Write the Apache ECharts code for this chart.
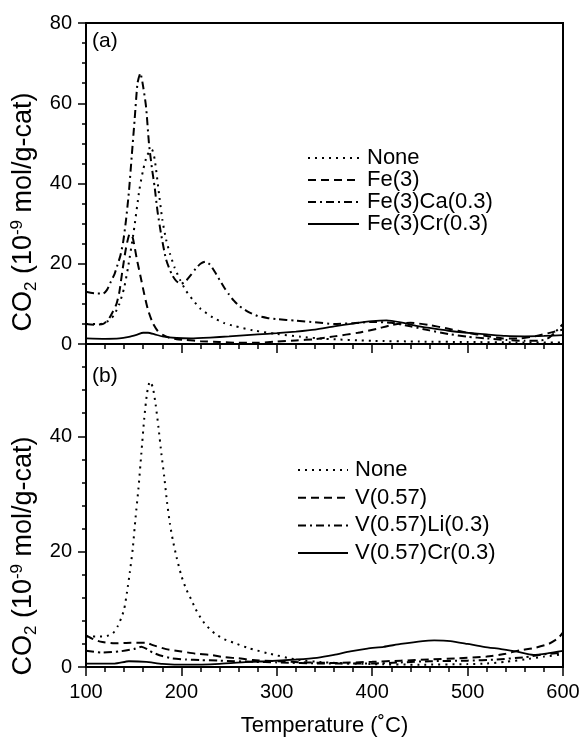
<!DOCTYPE html>
<html>
<head>
<meta charset="utf-8">
<script src="https://cdn.jsdelivr.net/npm/echarts@6/dist/echarts.min.js"></script>
<style>
html,body{margin:0;padding:0;background:#fff}
#chart{width:581px;height:738px}
</style>
</head>
<body>
<div id="chart"></div>
<script>
// panel (a): [temperature, CO2]
const noneA = [[100,5],[115,5],[125,6],[130,7.5],[135,10],[140,14],[144,19],[150,28],[156,38.5],[160,43.5],[164,47],[169,48.5],[172,46],[176,38.5],[180,31],[184,26],[188,22.5],[193,19],[199,15.8],[205,13.2],[212,11],[220,8.8],[233,6.6],[245,5.2],[255,4.5],[275,3.4],[300,2.5],[325,1.8],[350,1.3],[400,0.8],[450,0.6],[500,0.5],[550,0.4],[600,0.4]];
const fe3 = [[100,5],[110,4.8],[118,5],[124,6.3],[128,8],[132,10],[135,13],[138,18],[142,24],[146,27.5],[149,26.5],[153,21.5],[157,17],[161,12.5],[165,8.5],[170,5.2],[175,3.3],[181,2.2],[188,1.5],[195,1.2],[205,1.0],[220,0.7],[240,0.5],[260,0.3],[280,0.3],[300,0.6],[320,0.9],[340,1.2],[360,1.9],[385,2.8],[405,3.8],[420,4.7],[440,5.3],[460,4.7],[480,3.8],[500,2.8],[520,2.0],[537,1.4],[555,1.4],[572,2.0],[588,2.9],[600,3.6]];
const fe3Ca = [[100,13],[110,12.6],[118,12.6],[122,13.5],[126,15.5],[130,17.5],[133,19.7],[136,22],[139,25.5],[142,31],[145,38],[148,47],[151,56],[154,65],[157,67.5],[160,64],[163,59],[166,50],[169,44],[172,39],[175,33],[179,27],[184,21],[190,17.3],[195,15.6],[200,15],[205,15.8],[210,17.2],[215,18.8],[220,20],[225,20.5],[230,19.8],[235,18],[240,16],[245,14],[250,12.3],[255,10.8],[260,9.6],[270,8],[280,7],[290,6.5],[300,6.2],[320,5.8],[340,5.4],[360,5.0],[380,5.2],[400,5.5],[420,5.3],[440,4.4],[460,3.4],[480,2.5],[500,1.8],[520,1.4],[540,1.0],[560,0.8],[575,0.8],[585,1.5],[592,3],[600,5]];
const fe3Cr = [[100,1.4],[120,1.3],[135,1.4],[145,1.8],[153,2.3],[160,2.8],[165,2.8],[172,2.4],[180,1.9],[195,1.5],[210,1.4],[230,1.6],[250,1.9],[280,2.4],[300,2.7],[320,3.1],[340,3.6],[360,4.4],[380,5.1],[400,5.7],[415,5.9],[430,5.4],[445,4.6],[460,4.0],[480,3.3],[500,2.8],[520,2.4],[540,2.0],[560,1.9],[580,2.0],[600,2.2]];

// panel (b)
const noneB = [[100,5.3],[110,5.3],[120,5.3],[128,5.8],[133,7],[137,8.5],[140,10],[143,13],[146,16.5],[149,20.5],[152,26],[155,31],[158,37],[161,43],[164,47.5],[167,49.5],[170,48.5],[173,45.5],[176,41.5],[179,37],[182,33],[185,28.5],[188,24.8],[191,22],[195,19],[200,15.8],[205,13.5],[210,11.8],[215,10],[220,8.6],[225,7.4],[235,5.8],[245,4.8],[255,4.2],[270,3.3],[290,2.4],[320,1.3],[350,0.8],[400,0.5],[450,0.4],[500,0.5],[520,0.6],[540,0.9],[560,1.3],[580,1.8],[600,2.2]];
const v057 = [[100,5.5],[108,4.8],[115,4.4],[130,4.1],[147,4.2],[163,4.2],[170,3.8],[184,3.1],[200,2.7],[215,2.3],[230,2.1],[245,1.7],[260,1.5],[275,1.2],[300,1.0],[330,0.8],[360,0.7],[400,0.9],[430,1.1],[460,1.3],[490,1.5],[520,1.8],[540,2.3],[555,2.9],[570,3.3],[585,4.0],[595,5],[600,6]];
const v057Li = [[100,2.8],[117,2.5],[135,2.7],[150,3.1],[158,3.5],[165,3.0],[170,2.5],[180,1.9],[190,1.5],[205,1.3],[220,1.2],[240,1.1],[275,0.9],[300,0.8],[350,0.6],[400,0.6],[430,0.8],[460,1.0],[500,1.1],[530,1.3],[560,1.7],[580,2.2],[600,2.5]];
const v057Cr = [[100,0.6],[130,0.6],[145,1.0],[163,0.9],[180,0.55],[205,0.4],[240,0.55],[272,0.9],[290,1.0],[320,1.3],[342,1.6],[360,2.1],[377,2.7],[395,3.2],[412,3.5],[430,4.0],[453,4.5],[465,4.6],[482,4.5],[500,4.0],[517,3.5],[535,3.1],[551,2.7],[569,2.1],[585,2.4],[600,2.8]];

const namesA = ['None', 'Fe(3)', 'Fe(3)Ca(0.3)', 'Fe(3)Cr(0.3)'];
const namesB = ['None', 'V(0.57)', 'V(0.57)Li(0.3)', 'V(0.57)Cr(0.3)'];

const FONT = 'Liberation Sans, Arial, sans-serif';
const styles = [
    { type: [2, 5], width: 2 },        // dotted
    { type: [8, 5], width: 2 },        // dashed
    { type: [8, 4, 2, 4], width: 2 },  // dash-dot
    { type: 'solid', width: 1.8 }      // solid
];

const chart = echarts.init(document.getElementById('chart'));

function mkSeries(name, data, idx, panel) {
    return {
        name: name, type: 'line', data: data,
        xAxisIndex: panel === 0 ? 0 : 2,
        yAxisIndex: panel === 0 ? 0 : 2,
        symbol: 'none', showSymbol: false, smooth: 0.2,
        color: '#000',
        lineStyle: Object.assign({ color: '#000' }, styles[idx]),
        silent: true
    };
}

const axisLine = { show: true, lineStyle: { color: '#000', width: 2 } };
const labelStyle = { color: '#000', fontSize: 20, fontFamily: FONT };
const tickStyle = { color: '#000', width: 1.5 };

const yName = '{n|CO}{sub|2}{n| (10}{sup|-9}{n| mol/g-cat)}';
const yRich = {
    n: { fontSize: 27, fontFamily: FONT, color: '#000', lineHeight: 31 },
    sub: { fontSize: 17, fontFamily: FONT, color: '#000', verticalAlign: 'bottom' },
    sup: { fontSize: 17, fontFamily: FONT, color: '#000', verticalAlign: 'top' }
};

const legendText = { color: '#000', fontSize: 22, fontFamily: FONT, lineHeight: 22 };

let option = {
    animation: false,
    backgroundColor: '#fff',
    grid: [
        { left: 86, top: 23, width: 477, height: 321, show: true, borderColor: '#000', borderWidth: 2, containLabel: false, outerBoundsMode: 'none' },
        { left: 86, top: 344, width: 477, height: 323, show: true, borderColor: '#000', borderWidth: 2, containLabel: false, outerBoundsMode: 'none' }
    ],
    xAxis: [
        {   // (a) bottom
            gridIndex: 0, type: 'value', min: 100, max: 600, interval: 100, position: 'bottom',
            axisLine: axisLine,
            axisTick: { show: true, inside: false, length: 9, lineStyle: tickStyle },
            minorTick: { show: true, splitNumber: 5, length: 5, lineStyle: tickStyle },
            axisLabel: { show: false }, splitLine: { show: false }
        },
        {   // (a) top
            gridIndex: 0, type: 'value', min: 100, max: 600, interval: 100, position: 'top',
            axisLine: axisLine,
            axisTick: { show: true, inside: true, length: 3, lineStyle: tickStyle },
            minorTick: { show: true, splitNumber: 5, length: 3, lineStyle: tickStyle },
            axisLabel: { show: false }, splitLine: { show: false }
        },
        {   // (b) bottom
            gridIndex: 1, type: 'value', min: 100, max: 600, interval: 100, position: 'bottom',
            axisLine: axisLine,
            axisTick: { show: true, inside: false, length: 9, lineStyle: tickStyle },
            minorTick: { show: true, splitNumber: 5, length: 5, lineStyle: tickStyle },
            axisLabel: Object.assign({ margin: 15 }, labelStyle),
            splitLine: { show: false },
            name: 'Temperature (˚C)', nameLocation: 'middle', nameGap: 48, nameMoveOverlap: false,
            nameTextStyle: { color: '#000', fontSize: 22, fontFamily: FONT }
        }
    ],
    yAxis: [
        {
            gridIndex: 0, type: 'value', min: 0, max: 80, interval: 20, position: 'left',
            axisLine: axisLine,
            axisTick: { show: true, inside: false, length: 8, lineStyle: tickStyle },
            minorTick: { show: true, splitNumber: 4, length: 4, lineStyle: tickStyle },
            axisLabel: Object.assign({ margin: 14 }, labelStyle),
            splitLine: { show: false }
        },
        {
            gridIndex: 0, type: 'value', min: 0, max: 80, position: 'right',
            axisLine: axisLine, axisTick: { show: false }, axisLabel: { show: false }, splitLine: { show: false }
        },
        {
            gridIndex: 1, type: 'value', min: 0, max: 56, interval: 20, position: 'left',
            axisLine: axisLine,
            axisTick: { show: true, inside: false, length: 8, lineStyle: tickStyle },
            axisLabel: Object.assign({ margin: 14, showMaxLabel: false }, labelStyle),
            splitLine: { show: false }
        },
        {   // minor ticks of (b), every 4
            gridIndex: 1, type: 'value', min: 0, max: 56, interval: 4, position: 'left',
            axisLine: { show: false },
            axisTick: { show: true, inside: false, length: 4, lineStyle: tickStyle },
            axisLabel: { show: false }, splitLine: { show: false }
        },
        {
            gridIndex: 1, type: 'value', min: 0, max: 56, position: 'right',
            axisLine: axisLine, axisTick: { show: false }, axisLabel: { show: false }, splitLine: { show: false }
        }
    ],
    legend: [
        {
            data: namesA, orient: 'vertical', left: 307, top: 147, padding: 0,
            itemWidth: 51, itemHeight: 14, itemGap: 0,
            itemStyle: { opacity: 0, borderWidth: 0 },
            textStyle: Object.assign({ padding: [0, 0, 0, 3] }, legendText),
            selectedMode: false
        },
        {
            data: namesB, orient: 'vertical', left: 297, top: 459, padding: 0,
            itemWidth: 50, itemHeight: 14, itemGap: 5.7,
            itemStyle: { opacity: 0, borderWidth: 0 },
            textStyle: Object.assign({ padding: [0, 0, 0, 2] }, legendText),
            selectedMode: false
        }
    ],
    graphic: [
        { type: 'text', left: 92, top: 31, style: { text: '(a)', fill: '#000', font: '21px ' + FONT } },
        { type: 'text', left: 92, top: 366, style: { text: '(b)', fill: '#000', font: '21px ' + FONT } },
        { type: 'text', x: 24, y: 212, rotation: Math.PI / 2,
          style: { text: yName, rich: yRich, align: 'center', verticalAlign: 'middle' } },
        { type: 'text', x: 24, y: 556, rotation: Math.PI / 2,
          style: { text: yName, rich: yRich, align: 'center', verticalAlign: 'middle' } }
    ],
    series: [
        mkSeries(namesA[0], noneA, 0, 0),
        mkSeries(namesA[1], fe3, 1, 0),
        mkSeries(namesA[2], fe3Ca, 2, 0),
        mkSeries(namesA[3], fe3Cr, 3, 0),
        mkSeries(namesB[0], noneB, 0, 1),
        mkSeries(namesB[1], v057, 1, 1),
        mkSeries(namesB[2], v057Li, 2, 1),
        mkSeries(namesB[3], v057Cr, 3, 1)
    ]
};
chart.setOption(option);
</script>
</body>
</html>
